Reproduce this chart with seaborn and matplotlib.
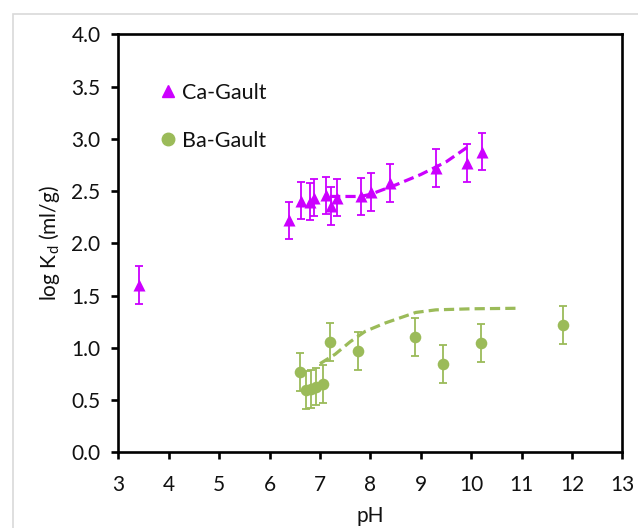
import matplotlib
matplotlib.use("Agg")
import matplotlib.pyplot as plt
from matplotlib.lines import Line2D
from matplotlib.patches import Rectangle
import seaborn as sns
import pandas as pd

# Measured sorption data (pH, log Kd) with +/- uncertainty
ca_ph = [3.40, 6.39, 6.62, 6.81, 6.88, 7.11, 7.21, 7.33, 7.81, 8.02, 8.38, 9.30, 9.92, 10.22]
ca_logkd = [1.60, 2.22, 2.41, 2.40, 2.44, 2.46, 2.36, 2.44, 2.45, 2.49, 2.58, 2.72, 2.77, 2.88]
ca_err = 0.18

ba_ph = [6.60, 6.72, 6.82, 6.92, 7.05, 7.19, 7.75, 8.88, 9.45, 10.20, 11.83]
ba_logkd = [0.77, 0.60, 0.61, 0.63, 0.655, 1.06, 0.97, 1.105, 0.845, 1.05, 1.22]
ba_err = 0.18

# Model curves
ca_fit_ph = [7.2, 7.8, 8.0, 8.5, 9.0, 9.5, 9.95]
ca_fit_logkd = [2.45, 2.45, 2.47, 2.56, 2.66, 2.78, 2.93]
ba_fit_ph = [7.0, 7.3, 7.6, 7.9, 8.3, 8.9, 9.3, 10.0, 10.9]
ba_fit_logkd = [0.85, 0.94, 1.06, 1.16, 1.24, 1.34, 1.365, 1.375, 1.38]

series_labels = ["Ca-Gault", "Ba-Gault"]
ca_color = "#CC00FF"
ba_color = "#9BBB59"
text_color = "#111111"

sns.set_style("white")
plt.rcParams["font.family"] = ["Lato", "DejaVu Sans"]
plt.rcParams["mathtext.fontset"] = "custom"
plt.rcParams["mathtext.rm"] = "Lato"

fig = plt.figure(figsize=(6.38, 5.28), dpi=100)
ax = fig.add_axes([0.1857, 0.1430, 0.7897, 0.7917])

# light outer frame
fig.patches.append(Rectangle((12.7 / 638, -0.05), 1.1, 1.05 - 14 / 528,
                             transform=fig.transFigure, fill=False,
                             edgecolor="#d9d9d9", linewidth=1.2, zorder=0))

ca_df = pd.DataFrame({"pH": ca_ph, "logKd": ca_logkd})
ba_df = pd.DataFrame({"pH": ba_ph, "logKd": ba_logkd})
ca_fit = pd.DataFrame({"pH": ca_fit_ph, "logKd": ca_fit_logkd})
ba_fit = pd.DataFrame({"pH": ba_fit_ph, "logKd": ba_fit_logkd})

for df, err, c in [(ca_df, ca_err, ca_color), (ba_df, ba_err, ba_color)]:
    ax.errorbar(df["pH"], df["logKd"], yerr=err, fmt="none", ecolor=c,
                elinewidth=1.3, capsize=2.8, capthick=1.3, zorder=2)

sns.lineplot(data=ca_fit, x="pH", y="logKd", ax=ax, color=ca_color, lw=2.3,
             dashes=False, zorder=3)
sns.lineplot(data=ba_fit, x="pH", y="logKd", ax=ax, color=ba_color, lw=2.3,
             dashes=False, zorder=3)
for ln in ax.lines[-2:]:
    ln.set_dashes((3.2, 1.6))

sns.scatterplot(data=ca_df, x="pH", y="logKd", ax=ax, marker="^", s=75,
                color=ca_color, edgecolor=ca_color, linewidth=0, zorder=4)
sns.scatterplot(data=ba_df, x="pH", y="logKd", ax=ax, marker="o", s=70,
                color=ba_color, edgecolor=ba_color, linewidth=0, zorder=4)

ax.set_xlim(3, 13)
ax.set_ylim(0, 4.0)
yticks = [0.0, 0.5, 1.0, 1.5, 2.0, 2.5, 3.0, 3.5, 4.0]
ax.set_xticks(range(3, 14))
ax.set_yticks(yticks)
ax.set_yticklabels([f"{v:.1f}" for v in yticks])

for sp in ax.spines.values():
    sp.set_visible(True)
    sp.set_color("black")
    sp.set_linewidth(1.9)
ax.tick_params(axis="both", which="major", direction="out", length=5, width=1.9,
               labelsize=15, color="black", labelcolor=text_color,
               left=True, bottom=True, right=False, top=False)
ax.tick_params(axis="x", pad=11)
ax.tick_params(axis="y", pad=8)

ax.set_xlabel("pH", fontsize=15, labelpad=8, color=text_color)
ax.set_ylabel(r"log K$_\mathregular{d}$ (ml/g)", fontsize=15, labelpad=7, color=text_color)

handles = [
    Line2D([], [], marker="^", ls="none", color=ca_color, markersize=9),
    Line2D([], [], marker="o", ls="none", color=ba_color, markersize=9),
]
ax.legend(handles, series_labels, loc="upper left", bbox_to_anchor=(0.055, 0.905),
          frameon=False, fontsize=15.5, handletextpad=0.05, labelspacing=1.3,
          borderaxespad=0, handlelength=1.2, labelcolor=text_color)

fig.savefig("out.png", dpi=100)
